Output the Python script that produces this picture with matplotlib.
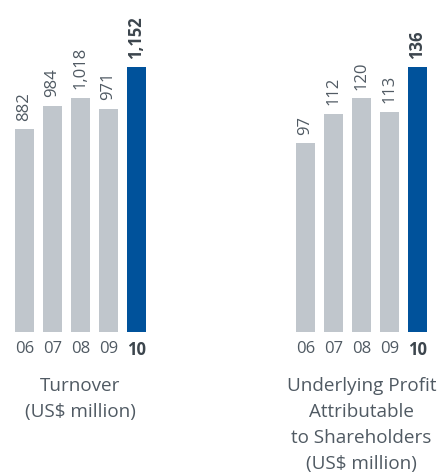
import matplotlib
matplotlib.use("Agg")
import matplotlib.pyplot as plt

years = ["06", "07", "08", "09", "10"]
turnover = [882, 984, 1018, 971, 1152]
turnover_labels = ["882", "984", "1,018", "971", "1,152"]
profit = [97, 112, 120, 113, 136]
profit_labels = ["97", "112", "120", "113", "136"]

GREY = "#c0c6cc"
BLUE = "#00529b"
TEXT = "#505a63"
DARK = "#3c454d"

plt.rcParams["font.family"] = ["Open Sans", "DejaVu Sans"]

W, H = 438, 472
fig = plt.figure(figsize=(W / 100, H / 100), dpi=100)


def draw_panel(left_px, values, labels, title):
    # axes spans 5 slots of 28 px, bottom at y=332, top at y=67
    ax = fig.add_axes([left_px / W, (H - 332) / H, 140 / W, 265 / H])
    colors = [GREY] * (len(values) - 1) + [BLUE]
    x = range(len(values))
    ax.bar(x, values, width=19 / 28, color=colors)
    ax.set_xlim(-0.5, len(values) - 0.5)
    ax.set_ylim(0, max(values))
    for i, (v, lab) in enumerate(zip(values, labels)):
        last = i == len(values) - 1
        ax.annotate(lab, (i, v), xytext=(0, 6), textcoords="offset points",
                    rotation=90, ha="center", va="bottom", fontsize=12,
                    color=DARK if last else TEXT,
                    fontweight="bold" if last else "normal",
                    annotation_clip=False)
    ax.set_xticks(list(x))
    ax.set_xticklabels(years, fontsize=12, color=TEXT)
    ax.get_xticklabels()[-1].set_fontweight("bold")
    ax.get_xticklabels()[-1].set_color(DARK)
    ax.tick_params(axis="x", length=0, pad=6.5)
    ax.set_yticks([])
    for s in ax.spines.values():
        s.set_visible(False)
    cx = (left_px + 70) / W
    fig.text(cx, 1 - 377 / H, title, ha="center", va="top", fontsize=13.6,
             color=TEXT, linespacing=1.56)
    return ax


draw_panel(10.5, turnover, turnover_labels, "Turnover\n(US$ million)")
draw_panel(291.5, profit, profit_labels,
           "Underlying Profit\nAttributable\nto Shareholders\n(US$ million)")

fig.savefig("out.png", dpi=100)
